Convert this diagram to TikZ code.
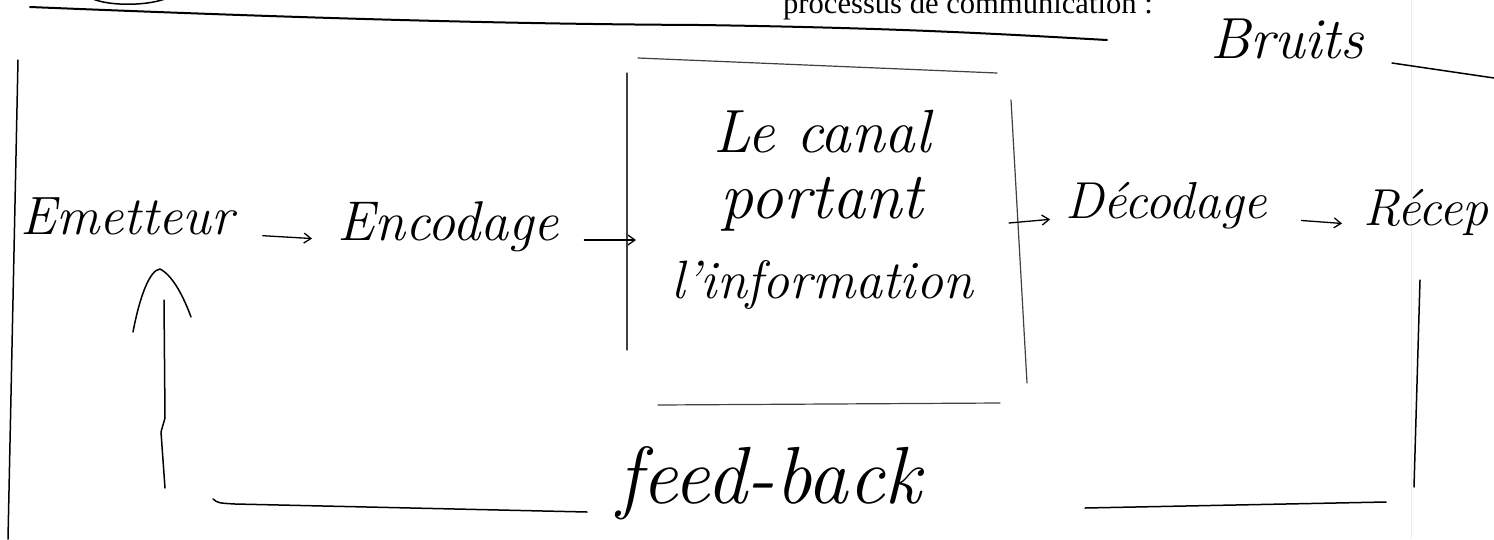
\documentclass[tikz,border=0pt]{standalone}
\usepackage{fontspec}
\newfontfamily\printfont{Liberation Serif}
\usetikzlibrary{arrows.meta}
\begin{document}
\begin{tikzpicture}[x=1pt,y=-1pt,
  hand/.style={inner sep=0pt, font=\fontsize{#1}{#1}\selectfont\itshape},
  ink/.style={line width=1.5pt, line cap=round, line join=round},
  link/.style={line width=1.3pt, line cap=round, -{Straight Barb[length=7pt,width=10pt]}},
  boxline/.style={line width=1.2pt, black!75, line cap=round},
  rule/.style={line width=2pt, line cap=round}]
\useasboundingbox (0,0) rectangle (1494,539);
\fill[white] (0,0) rectangle (1494,539);
% faint page edge
\draw[black!8, line width=1pt] (1411,0) -- (1411,539);
% printed header (cut at the top)
\node[inner sep=0pt, anchor=base east, font=\printfont\fontsize{30.6}{31}\selectfont] (head) at (1153,13) {processus de communication :};
\draw[line width=1.5pt] (93,-1) .. controls (110,6) and (145,6) .. (165,-1);
\draw[rule] (30,7) .. controls (300,18) and (500,24) .. (700,25) .. controls (900,28) and (1000,34) .. (1107,40);
% noise
\node[hand=58, anchor=base west] (bruits) at (1210,58) {Bruits};
\coordinate (br1) at (1392,63);
\coordinate (br2) at (1494,78);
\draw[ink] (br1) -- (br2);
% left frame
\draw[ink] (18,60) -- (8,539);
% chain
\node[hand=54, anchor=base west] (em) at (20,234) {Emetteur};
\node[hand=56, anchor=base west] (enc) at (337,240) {Encodage};
\node[hand=52, anchor=base west] (dec) at (1065,218) {Décodage};
\node[hand=52, anchor=base west] (rec) at (1363,225) {Récep};
% channel box
\coordinate (bTL) at (638,58);
\coordinate (bTR) at (997,73);
\coordinate (bL1) at (627,73);
\coordinate (bL2) at (627,350);
\coordinate (bR1) at (1011,100);
\coordinate (bR2) at (1027,383);
\coordinate (bBL) at (658,405);
\coordinate (bBR) at (1000,403);
\draw[boxline] (bTL) -- (bTR);
\draw[boxline] (bL1) -- (bL2);
\draw[boxline] (bR1) -- (bR2);
\draw[boxline] (bBL) -- (bBR);
\node[inner sep=0pt, anchor=north, align=center, font=\fontsize{60}{66}\selectfont\itshape] (canal) at (822,110.3)
  {{\fontsize{61}{66}\selectfont Le canal}\\{\fontsize{66}{66}\selectfont portant}\\[14pt]{\fontsize{54}{66}\selectfont l'information}};
\coordinate (canalin) at (636,240);
\coordinate (canalout) at (1009,223);
% arrows
\draw[link, shorten <=29pt, shorten >=25pt] (em.base east) -- (enc.base west);
\draw[link, shorten <=25pt] (enc.base east) -- (canalin);
\draw[link, shorten >=15pt] (canalout) -- (dec.base west);
\draw[link, shorten <=34pt, shorten >=21pt] (dec.base east) -- (rec.base west);
% feed-back loop
\coordinate (r1) at (1420,280);
\coordinate (r2) at (1414,487);
\coordinate (b1) at (1386,502);
\coordinate (b2) at (1085,508);
\node[hand=81, anchor=base west] (fb) at (617,503) {feed-back};
\coordinate (l1) at (587,512);
\coordinate (l2) at (213,499);
\coordinate (s1) at (165,488);
\coordinate (s2) at (164,300);
\coordinate (apex) at (160,269);
\draw[ink] (r1) -- (r2);
\draw[ink] (b1) -- (b2);
\draw[ink] (l1) -- (235,504) .. controls (218,503) .. (l2);
\draw[ink] (s1) -- (161,432) -- (165,418) -- (s2);
\draw[ink] (133,332) .. controls (140,295) and (150,270) .. (apex) .. controls (172,275) and (183,295) .. (191,317);
\end{tikzpicture}
\end{document}
